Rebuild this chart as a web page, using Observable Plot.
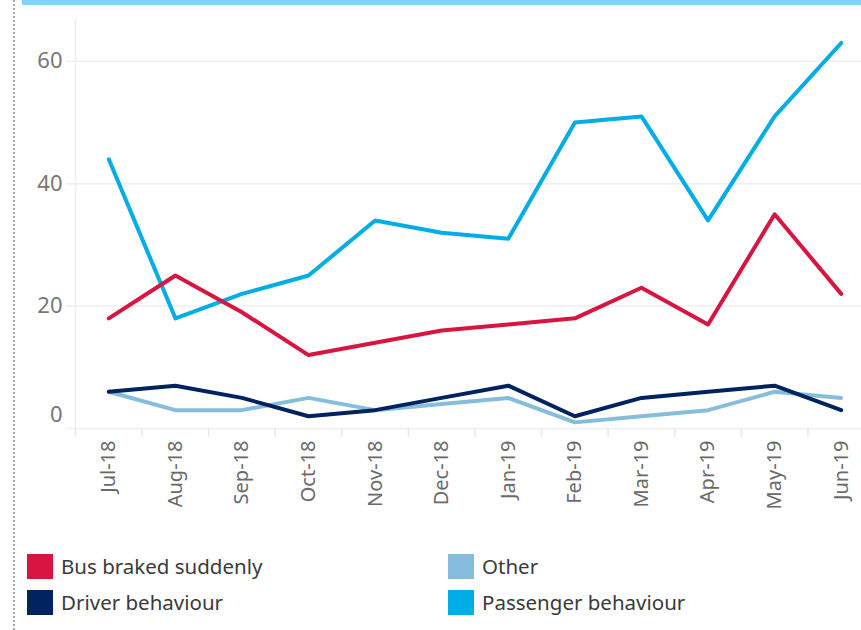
<!DOCTYPE html>
<html>
<head>
<meta charset="utf-8">
<script src="https://cdn.jsdelivr.net/npm/d3@7"></script>
<script src="https://cdn.jsdelivr.net/npm/@observablehq/plot@0.6"></script>
<style>
  html, body { margin: 0; padding: 0; background: #fff; overflow: hidden; }
  #wrap { position: relative; width: 861px; height: 630px; font-family: "Noto Sans", sans-serif; }
  #dots { position: absolute; left: 13px; top: 0; height: 630px; border-left: 2px dotted #a8a8a8; }
  #topbar { position: absolute; left: 22px; top: 0; width: 839px; height: 5px; background: #80d4fa; }
  #chart { position: absolute; left: 0; top: 0; }
  .leg { position: absolute; display: flex; align-items: center; font-size: 20.5px; color: #3a3a3a; white-space: nowrap; }
  .sw { width: 26px; height: 25px; margin-right: 8px; }
</style>
</head>
<body>
<div id="wrap">
  <div id="dots"></div>
  <div id="topbar"></div>
  <div id="chart"></div>
  <div id="legend"></div>
</div>
<script>
const months = ["Jul-18","Aug-18","Sep-18","Oct-18","Nov-18","Dec-18","Jan-19","Feb-19","Mar-19","Apr-19","May-19","Jun-19"];
const busBraked = [18, 25, 19, 12, 14, 16, 17, 18, 23, 17, 35, 22];
const driverBehaviour = [6, 7, 5, 2, 3, 5, 7, 2, 5, 6, 7, 3];
const other = [6, 3, 3, 5, 3, 4, 5, 1, 2, 3, 6, 5];
const passengerBehaviour = [44, 18, 22, 25, 34, 32, 31, 50, 51, 34, 51, 63];
const seriesNames = ["Bus braked suddenly", "Driver behaviour", "Other", "Passenger behaviour"];
const seriesColors = ["#d81440", "#00235f", "#86bddc", "#00ade6"];
const yTicks = [0, 20, 40, 60];

const seriesValues = {
  "Bus braked suddenly": busBraked,
  "Driver behaviour": driverBehaviour,
  "Other": other,
  "Passenger behaviour": passengerBehaviour
};
const drawOrder = ["Other", "Driver behaviour", "Passenger behaviour", "Bus braked suddenly"];
const rows = drawOrder.flatMap(s => seriesValues[s].map((v, i) => ({series: s, i, value: v})));
const boundaries = months.map((m, i) => i - 0.5).concat([months.length - 0.5]);
const centers = months.map((m, i) => i);

const chart = Plot.plot({
  width: 861,
  height: 530,
  marginLeft: 75,
  marginRight: 0,
  marginTop: 18,
  marginBottom: 102,
  style: {background: "transparent", fontFamily: "Noto Sans, sans-serif"},
  x: {domain: [-0.5, months.length - 0.5], range: [75, 874]},
  y: {domain: [0, 67]},
  color: {domain: seriesNames, range: seriesColors},
  marks: [
    Plot.ruleY(yTicks, {stroke: "#efefef", strokeWidth: 1.5, insetLeft: -9}),
    Plot.ruleX([-0.5], {stroke: "#efefef", strokeWidth: 1.5}),
    Plot.axisX({ticks: boundaries, tickSize: 9, tickFormat: () => "", stroke: "#e8e8e8", strokeWidth: 1.5, label: null}),
    Plot.axisX({ticks: centers, tickSize: 0, tickPadding: 12, tickRotate: -90, tickFormat: i => months[i], fontSize: 20, fill: "#6a6a6a", label: null}),
    Plot.axisY({ticks: yTicks.filter(d => d > 0), tickSize: 0, tickPadding: 13, fontSize: 22, fill: "#777", label: null}),
    Plot.axisY({ticks: yTicks.filter(d => d === 0), tickSize: 0, tickPadding: 13, dy: -14, fontSize: 22, fill: "#777", label: null}),
    Plot.line(rows, {x: "i", y: "value", z: "series", stroke: "series", strokeWidth: 4, strokeLinecap: "round", strokeLinejoin: "round"})
  ]
});
document.getElementById("chart").appendChild(chart);

const legendPos = [[27, 552], [27, 588], [448, 552], [448, 588]];
const leg = document.getElementById("legend");
seriesNames.forEach((name, k) => {
  const d = document.createElement("div");
  d.className = "leg";
  d.style.left = legendPos[k][0] + "px";
  d.style.top = legendPos[k][1] + "px";
  d.innerHTML = `<div class="sw" style="background:${seriesColors[k]}"></div><span>${name}</span>`;
  leg.appendChild(d);
});
</script>
</body>
</html>
